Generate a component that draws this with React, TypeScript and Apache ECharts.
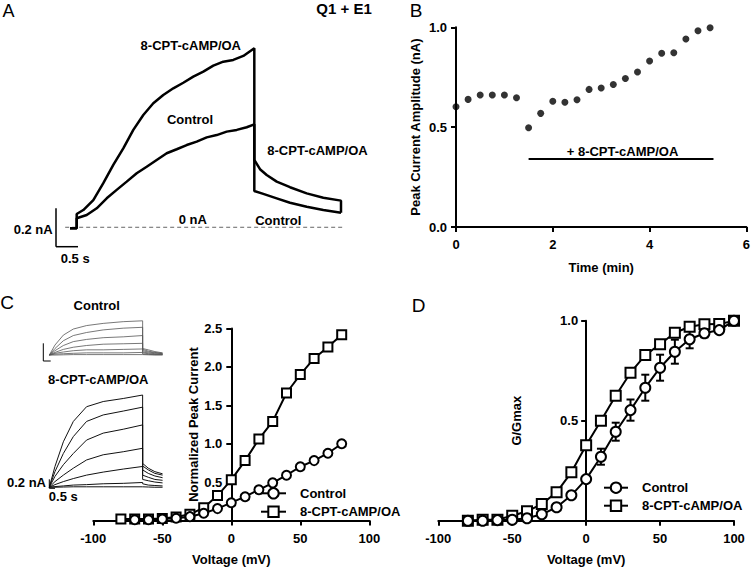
import React, { useEffect, useRef } from "react";
import * as echarts from "echarts";

const FONT = '"Liberation Sans", Arial, Helvetica, sans-serif';

// ---------- Panel A: current traces (time s, current nA) ----------
const A_CPT_T = [0, 0.152, 0.152, 0.302, 0.53, 0.757, 0.984, 1.211, 1.439, 1.666, 1.893, 2.12, 2.348, 2.575, 2.802, 3.03, 3.257, 3.484, 3.711, 3.939, 4.189, 4.189, 4.318, 4.47, 4.698, 5.0, 5.38, 5.757, 6.159, 6.159];
const A_CPT_I = [-0.005, -0.005, 0.069, 0.09, 0.142, 0.23, 0.325, 0.412, 0.508, 0.586, 0.647, 0.69, 0.725, 0.754, 0.786, 0.812, 0.843, 0.864, 0.873, 0.894, 0.934, 0.351, 0.303, 0.273, 0.238, 0.209, 0.177, 0.154, 0.139, 0.076];
const A_CTRL_T = [0, 0.152, 0.152, 0.38, 0.607, 0.834, 1.061, 1.289, 1.516, 1.743, 1.97, 2.198, 2.425, 2.652, 2.88, 3.107, 3.334, 3.561, 3.789, 4.016, 4.189, 4.189, 4.393, 4.698, 5.0, 5.38, 5.757, 6.159];
const A_CTRL_I = [-0.005, -0.005, 0.047, 0.064, 0.099, 0.151, 0.195, 0.238, 0.282, 0.316, 0.351, 0.386, 0.407, 0.429, 0.447, 0.469, 0.481, 0.499, 0.508, 0.522, 0.537, 0.189, 0.174, 0.151, 0.128, 0.107, 0.09, 0.076];
const A_BASELINE_T = [-0.11, 6.25];

// ---------- Panel B: peak current over time ----------
const B_TIME = [0, 0.25, 0.5, 0.75, 1.0, 1.25, 1.5, 1.75, 2.0, 2.25, 2.5, 2.75, 3.0, 3.25, 3.5, 3.75, 4.0, 4.25, 4.5, 4.75, 5.0, 5.25];
const B_PEAK = [0.602, 0.639, 0.661, 0.661, 0.661, 0.647, 0.497, 0.569, 0.63, 0.625, 0.637, 0.689, 0.696, 0.714, 0.744, 0.776, 0.831, 0.87, 0.873, 0.941, 0.983, 0.998];
const B_DRUG_BAR_T = [1.5, 5.32];
const B_DRUG_BAR_Y = 0.34;

// ---------- Panel C: insets (time s, current nA) ----------
const INSET_PULSE_T = [0, 0.5, 1.24, 2.12, 3.29, 4.76, 6.53, 8.24];
const INSET_TAIL_T = [8.24, 8.74, 9.32, 10.0];
const CTRL_INSET_PULSE = [
  [0, 0.23, 0.46, 0.6, 0.68, 0.73, 0.77, 0.79],
  [0, 0.15, 0.33, 0.45, 0.52, 0.58, 0.62, 0.64],
  [0, 0.1, 0.22, 0.31, 0.36, 0.4, 0.42, 0.45],
  [0, 0.06, 0.13, 0.18, 0.22, 0.25, 0.26, 0.27],
  [0, 0.04, 0.07, 0.1, 0.12, 0.12, 0.13, 0.14],
  [0, 0.02, 0.03, 0.04, 0.05, 0.05, 0.05, 0.06],
  [0, 0, 0.005, 0.01, 0.01, 0.01, 0.01, 0.01],
];
const CTRL_INSET_TAIL = [
  [0.15, 0.12, 0.08, 0.05],
  [0.13, 0.09, 0.06, 0.04],
  [0.1, 0.07, 0.05, 0.03],
  [0.07, 0.05, 0.03, 0.02],
  [0.05, 0.03, 0.02, 0.015],
  [0.02, 0.015, 0.01, 0.01],
  [0.005, 0.005, 0, 0],
];
const CPT_INSET_PULSE = [
  [0, 0.48, 1.05, 1.52, 1.86, 1.98, 2.05, 2.13],
  [0, 0.36, 0.78, 1.17, 1.52, 1.67, 1.76, 1.85],
  [0, 0.25, 0.52, 0.78, 1.09, 1.25, 1.34, 1.44],
  [0, 0.13, 0.28, 0.44, 0.63, 0.75, 0.82, 0.9],
  [0, 0.06, 0.13, 0.2, 0.28, 0.35, 0.42, 0.48],
  [0, 0.015, 0.03, 0.05, 0.06, 0.08, 0.09, 0.11],
  [0, 0, 0.005, 0.01, 0.01, 0.01, 0.01, 0.01],
];
const CPT_INSET_TAIL = [
  [0.55, 0.44, 0.36, 0.31],
  [0.49, 0.4, 0.32, 0.28],
  [0.4, 0.32, 0.26, 0.22],
  [0.28, 0.23, 0.18, 0.16],
  [0.18, 0.15, 0.12, 0.1],
  [0.08, 0.05, 0.04, 0.03],
  [0.01, 0.005, 0, 0],
];

// ---------- Panel C: normalized I-V ----------
const C_VOLT = [-80, -70, -60, -50, -40, -30, -20, -10, 0, 10, 20, 30, 40, 50, 60, 70, 80];
const C_CONTROL = [null, 0.01, 0.01, 0.02, 0.03, 0.05, 0.094, 0.155, 0.232, 0.31, 0.4, 0.49, 0.59, 0.7, 0.78, 0.876, 1.0];
const C_CPT = [0.02, 0.02, 0.02, 0.026, 0.045, 0.08, 0.167, 0.324, 0.53, 0.78, 1.06, 1.29, 1.66, 1.9, 2.11, 2.26, 2.42];

// ---------- Panel D: G/Gmax ----------
const D_VOLT = [-80, -70, -60, -50, -40, -30, -20, -10, 0, 10, 20, 30, 40, 50, 60, 70, 80, 90, 100];
const D_CONTROL = [0, 0, 0.003, 0.005, 0.012, 0.032, 0.067, 0.127, 0.208, 0.32, 0.445, 0.553, 0.665, 0.765, 0.845, 0.907, 0.937, 0.953, 1.0];
const D_CONTROL_ERR = [0, 0, 0, 0, 0, 0, 0.005, 0.01, 0.015, 0.04, 0.045, 0.053, 0.065, 0.065, 0.06, 0.045, 0.02, 0.01, 0];
const D_CPT = [0, 0.005, 0.005, 0.025, 0.047, 0.083, 0.142, 0.242, 0.377, 0.5, 0.625, 0.74, 0.828, 0.882, 0.94, 0.97, 0.982, 0.983, 1.0];

const zip = (xs: number[], ys: (number | null)[]) =>
  xs.map((x, i) => [x, ys[i]]).filter((p) => p[1] !== null);

const labelStyle = { color: "#000", fontFamily: FONT, fontWeight: "bold" as const, fontSize: 13 };

function visibleAxis(extra: any) {
  return {
    type: "value",
    axisLine: { show: true, onZero: false, lineStyle: { color: "#000", width: 2 } },
    axisTick: { show: true, length: 5, lineStyle: { color: "#000", width: 2 } },
    splitLine: { show: false },
    nameTextStyle: { ...labelStyle },
    ...extra,
    axisLabel: { ...labelStyle, ...(extra.axisLabel || {}) },
  };
}

function txt(text: string, x: number, y: number, opts: any = {}) {
  const align = opts.align || "center";
  return {
    type: "text",
    x,
    y,
    z: 100,
    style: {
      text,
      fill: "#000",
      fontFamily: FONT,
      fontWeight: opts.weight || "bold",
      fontSize: opts.size || 13,
      align,
      textAlign: align,
      verticalAlign: "middle",
      textVerticalAlign: "middle",
    },
  };
}

function ln(x1: number, y1: number, x2: number, y2: number, w = 1.5) {
  return { type: "line", z: 100, shape: { x1, y1, x2, y2 }, style: { stroke: "#000", lineWidth: w } };
}

// plot-area geometry (pixels)
const C_LEFT = 93.3, C_WIDTH = 276, C_TOP = 328.5, C_HEIGHT = 192;
const D_LEFT = 438.3, D_WIDTH = 295.7, D_TOP = 320.7, D_HEIGHT = 200;

export default function App() {
  const ref = useRef<HTMLDivElement>(null);

  useEffect(() => {
    if (!ref.current) return;
    const chart = echarts.init(ref.current, null, { renderer: "svg" });

    const insetSeries: any[] = [];
    const addInset = (pulse: number[][], tail: number[][], gi: number, color: string, width: number) => {
      pulse.forEach((row, i) => {
        const data = [
          ...INSET_PULSE_T.map((t, j) => [t, row[j]]),
          ...INSET_TAIL_T.map((t, j) => [t, tail[i][j]]),
        ];
        insetSeries.push({
          type: "line",
          xAxisIndex: gi,
          yAxisIndex: gi,
          data,
          showSymbol: false,
          symbol: "none",
          silent: true,
          lineStyle: { color, width },
        });
      });
    };
    addInset(CTRL_INSET_PULSE, CTRL_INSET_TAIL, 3, "#555", 0.8);
    addInset(CPT_INSET_PULSE, CPT_INSET_TAIL, 4, "#111", 1);

    const errData = D_VOLT.map((v, i) => [v, D_CONTROL[i], D_CONTROL_ERR[i]]).filter((d) => d[2] > 0);

    const markerStyle = { color: "#fff", borderColor: "#000", borderWidth: 2 };

    const option: any = {
      animation: false,
      backgroundColor: "#fff",
      grid: [
        { left: 61.2, top: 35.6, width: 294.8, height: 230 },
        { left: 456, top: 27.3, width: 293, height: 199.7 },
        { left: C_LEFT, top: C_TOP, width: C_WIDTH, height: C_HEIGHT },
        { left: 49.3, top: 311.7, width: 114.4, height: 45.5 },
        { left: 49.3, top: 392, width: 114.4, height: 97.4 },
        { left: D_LEFT, top: D_TOP, width: D_WIDTH, height: D_HEIGHT },
        // y-axis grids crossing at 0 mV
        { left: C_LEFT + C_WIDTH / 2, top: C_TOP, width: C_WIDTH / 2, height: C_HEIGHT },
        { left: D_LEFT + D_WIDTH / 2, top: D_TOP, width: D_WIDTH / 2, height: D_HEIGHT },
      ],
      xAxis: [
        { gridIndex: 0, type: "value", min: -0.2, max: 6.5, show: false },
        visibleAxis({
          gridIndex: 1, min: 0, max: 6, interval: 2,
          name: "Time (min)", nameLocation: "middle", nameGap: 34,
          axisLabel: { margin: 11 },
        }),
        visibleAxis({
          gridIndex: 2, min: -100, max: 100, interval: 50,
          name: "Voltage (mV)", nameLocation: "middle", nameGap: 32,
          axisLabel: { margin: 11 },
        }),
        { gridIndex: 3, type: "value", min: 0, max: 10.1, show: false },
        { gridIndex: 4, type: "value", min: 0, max: 10.1, show: false },
        visibleAxis({
          gridIndex: 5, min: -100, max: 100, interval: 50,
          name: "Voltage (mV)", nameLocation: "middle", nameGap: 32,
          axisLabel: { margin: 11 },
        }),
        { gridIndex: 6, type: "value", min: 0, max: 100, show: false },
        { gridIndex: 7, type: "value", min: 0, max: 100, show: false },
      ],
      yAxis: [
        { gridIndex: 0, type: "value", min: -0.2, max: 1.0, show: false },
        visibleAxis({
          gridIndex: 1, min: 0, max: 1, interval: 0.5,
          name: "Peak Current Amplitude (nA)", nameLocation: "middle", nameGap: 34,
          axisLabel: { margin: 9, formatter: (v: number) => v.toFixed(1) },
        }),
        { gridIndex: 2, type: "value", min: 0, max: 2.5, show: false },
        { gridIndex: 3, type: "value", min: -0.05, max: 1.0, show: false },
        { gridIndex: 4, type: "value", min: -0.05, max: 2.2, show: false },
        { gridIndex: 5, type: "value", min: 0, max: 1, show: false },
        visibleAxis({
          gridIndex: 6, min: 0, max: 2.5, interval: 0.5,
          name: "Normalized Peak Current", nameLocation: "middle", nameGap: 31,
          axisLabel: { margin: 9, showMinLabel: false, formatter: (v: number) => v.toFixed(1) },
        }),
        visibleAxis({
          gridIndex: 7, min: 0, max: 1, interval: 0.5,
          name: "G/Gmax", nameLocation: "middle", nameGap: 63,
          axisLabel: { margin: 8, showMinLabel: false, formatter: (v: number) => v.toFixed(1) },
        }),
      ],
      legend: [
        {
          orient: "vertical", left: 260, top: 486.3, padding: 0, itemWidth: 25, itemHeight: 13, itemGap: 4.4,
          selectedMode: false, data: ["Control", "8-CPT-cAMP/OA"],
          textStyle: { ...labelStyle, lineHeight: 14, padding: [0, 0, 0, 9] },
        },
        {
          orient: "vertical", left: 603, top: 480.7, padding: 0, itemWidth: 24, itemHeight: 13, itemGap: 4,
          selectedMode: false, data: ["Control", "8-CPT-cAMP/OA"],
          textStyle: { ...labelStyle, lineHeight: 14, padding: [0, 0, 0, 9] },
        },
      ],
      series: [
        // Panel A
        {
          type: "line", xAxisIndex: 0, yAxisIndex: 0, data: zip(A_BASELINE_T, [0, 0]),
          symbol: "none", silent: true, lineStyle: { color: "#666", width: 1, type: [4, 3] },
        },
        {
          type: "line", xAxisIndex: 0, yAxisIndex: 0, data: zip(A_CPT_T, A_CPT_I),
          symbol: "none", silent: true, lineStyle: { color: "#000", width: 2.5 },
        },
        {
          type: "line", xAxisIndex: 0, yAxisIndex: 0, data: zip(A_CTRL_T, A_CTRL_I),
          symbol: "none", silent: true, lineStyle: { color: "#000", width: 2.5 },
        },
        // Panel B
        {
          type: "scatter", xAxisIndex: 1, yAxisIndex: 1, data: zip(B_TIME, B_PEAK),
          symbol: "circle", symbolSize: 7, itemStyle: { color: "#000" },
        },
        {
          type: "line", xAxisIndex: 1, yAxisIndex: 1,
          data: zip(B_DRUG_BAR_T, [B_DRUG_BAR_Y, B_DRUG_BAR_Y]),
          symbol: "none", lineStyle: { color: "#000", width: 2 },
        },
        // Panel C insets
        ...insetSeries,
        // Panel C main
        {
          name: "8-CPT-cAMP/OA", type: "line", xAxisIndex: 2, yAxisIndex: 2, data: zip(C_VOLT, C_CPT),
          symbol: "rect", symbolSize: 9, showAllSymbol: true, itemStyle: markerStyle,
          lineStyle: { color: "#000", width: 2 }, z: 3,
        },
        {
          name: "Control", type: "line", xAxisIndex: 2, yAxisIndex: 2, data: zip(C_VOLT, C_CONTROL),
          symbol: "circle", symbolSize: 9, showAllSymbol: true, itemStyle: markerStyle,
          lineStyle: { color: "#000", width: 2 }, z: 4,
        },
        // Panel D
        {
          type: "custom", xAxisIndex: 5, yAxisIndex: 5, data: errData, z: 2,
          encode: { x: 0, y: 1 },
          renderItem: (params: any, api: any) => {
            const x = api.value(0), y = api.value(1), e = api.value(2);
            const p1 = api.coord([x, y + e]);
            const p2 = api.coord([x, y - e]);
            const w = 4;
            const style = { stroke: "#000", lineWidth: 2, fill: null };
            return {
              type: "group",
              children: [
                { type: "line", shape: { x1: p1[0], y1: p1[1], x2: p2[0], y2: p2[1] }, style },
                { type: "line", shape: { x1: p1[0] - w, y1: p1[1], x2: p1[0] + w, y2: p1[1] }, style },
                { type: "line", shape: { x1: p2[0] - w, y1: p2[1], x2: p2[0] + w, y2: p2[1] }, style },
              ],
            };
          },
        },
        {
          name: "8-CPT-cAMP/OA", type: "line", xAxisIndex: 5, yAxisIndex: 5, data: zip(D_VOLT, D_CPT),
          symbol: "rect", symbolSize: 10, showAllSymbol: true, itemStyle: markerStyle,
          lineStyle: { color: "#000", width: 2 }, z: 3,
        },
        {
          name: "Control", type: "line", xAxisIndex: 5, yAxisIndex: 5, data: zip(D_VOLT, D_CONTROL),
          symbol: "circle", symbolSize: 10, showAllSymbol: true, itemStyle: markerStyle,
          lineStyle: { color: "#000", width: 2 }, z: 4,
        },
      ],
      graphic: [
        // panel letters
        txt("A", 8.5, 11, { weight: "normal", size: 18 }),
        txt("B", 416, 10, { weight: "normal", size: 19 }),
        txt("C", 7, 302.5, { weight: "normal", size: 19 }),
        txt("D", 418.5, 305, { weight: "normal", size: 19 }),
        // panel A annotations
        txt("Q1 + E1", 344, 8, { size: 15 }),
        txt("8-CPT-cAMP/OA", 190.8, 45),
        txt("Control", 190, 119.3),
        txt("8-CPT-cAMP/OA", 317.5, 150.7),
        txt("0 nA", 192.8, 219),
        txt("Control", 278.3, 220),
        txt("0.2 nA", 52.7, 229.3, { align: "right" }),
        txt("0.5 s", 75.2, 258.7),
        ln(56, 208.3, 56, 246.7, 1.5),
        ln(56, 246.7, 78, 246.7, 1.5),
        // panel B annotation
        txt("+ 8-CPT-cAMP/OA", 622.5, 151.7),
        // panel C inset annotations
        txt("Control", 96.7, 305),
        txt("8-CPT-cAMP/OA", 98.3, 379.3),
        ln(43.3, 343.3, 43.3, 361, 1),
        ln(43.3, 361, 50.7, 361, 1),
        ln(49.3, 479.3, 49.3, 488.3, 1),
        ln(49.3, 488.3, 55, 488.3, 1),
        txt("0.2 nA", 46, 482.7, { align: "right" }),
        txt("0.5 s", 63.3, 496.7),
      ],
    };

    chart.setOption(option);
    return () => chart.dispose();
  }, []);

  return (
    <div
      ref={ref}
      style={{ position: "fixed", left: 0, top: 0, width: 753, height: 569, background: "#fff" }}
    />
  );
}
